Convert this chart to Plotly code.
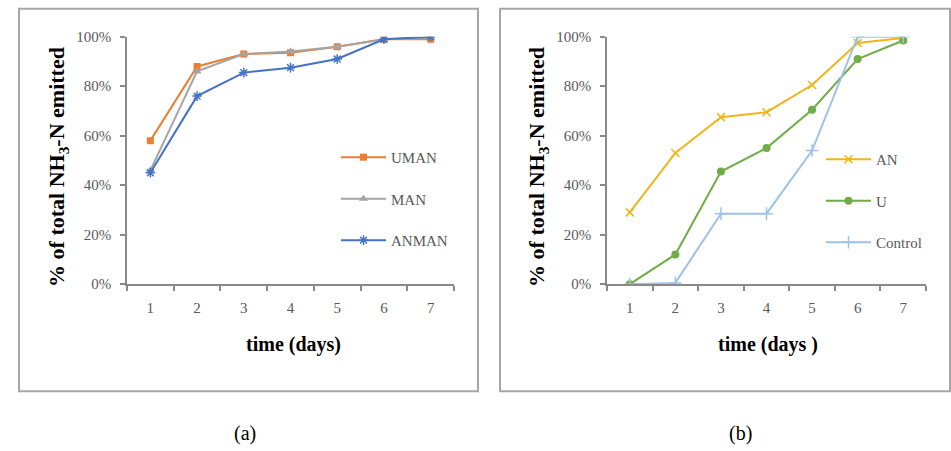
import plotly.graph_objects as go

days = ["1", "2", "3", "4", "5", "6", "7"]
y_ticks = [0, 0.2, 0.4, 0.6, 0.8, 1.0]

uman = [0.58, 0.88, 0.93, 0.935, 0.96, 0.99, 0.99]
man = [0.46, 0.86, 0.93, 0.94, 0.96, 0.99, 0.995]
anman = [0.45, 0.76, 0.855, 0.875, 0.91, 0.99, 1.0]

an = [0.29, 0.53, 0.675, 0.695, 0.805, 0.975, 0.995]
u = [0.0, 0.12, 0.455, 0.55, 0.705, 0.91, 0.985]
control = [0.0, 0.005, 0.285, 0.285, 0.54, 1.0, 1.0]

W, H = 951, 451
SERIF = "Liberation Serif"
TICKCOL = "#595959"

def px(x):
    return x / W

def py(y):
    # vertical placement, compensated for the capture's vertical offset/scale
    yp = (y - 7.3) / 0.963
    return (H - yp) / H

fig = go.Figure()

# panel (a)
fig.add_trace(go.Scatter(x=days, y=uman, name="UMAN", mode="lines+markers",
                         line=dict(color="#ED7D31", width=2),
                         marker=dict(symbol="square", size=7, color="#ED7D31"),
                         xaxis="x", yaxis="y", legend="legend", legendgroup="a1"))
fig.add_trace(go.Scatter(x=days, y=man, name="MAN", mode="lines+markers",
                         line=dict(color="#A5A5A5", width=2),
                         marker=dict(symbol="triangle-up", size=8, color="#A5A5A5"),
                         xaxis="x", yaxis="y", legend="legend", legendgroup="a2"))
fig.add_trace(go.Scatter(x=days, y=anman, name="ANMAN", mode="lines+markers",
                         line=dict(color="#4472C4", width=2),
                         marker=dict(symbol="asterisk-open", size=8, color="#4472C4",
                                     line=dict(color="#4472C4", width=1.5)),
                         xaxis="x", yaxis="y", legend="legend", legendgroup="a3"))

# panel (b)
fig.add_trace(go.Scatter(x=days, y=an, name="AN", mode="lines+markers",
                         line=dict(color="#F2B418", width=2),
                         marker=dict(symbol="x-thin-open", size=8, color="#F2B418",
                                     line=dict(color="#F2B418", width=1.5)),
                         xaxis="x2", yaxis="y2", legend="legend2", legendgroup="b1"))
fig.add_trace(go.Scatter(x=days, y=u, name="U", mode="lines+markers",
                         line=dict(color="#70AD47", width=2),
                         marker=dict(symbol="circle", size=8, color="#70AD47"),
                         xaxis="x2", yaxis="y2", legend="legend2", legendgroup="b2"))
fig.add_trace(go.Scatter(x=days, y=control, name="Control", mode="lines+markers",
                         line=dict(color="#9DC3E6", width=2),
                         marker=dict(symbol="cross-thin-open", size=9, color="#9DC3E6",
                                     line=dict(color="#9DC3E6", width=1.5)),
                         xaxis="x2", yaxis="y2", legend="legend2", legendgroup="b3"))

xaxis_common = dict(type="category", tickson="boundaries", ticks="outside", ticklen=5,
                    tickcolor="#898989", tickwidth=1.5, showline=True, linecolor="#898989",
                    linewidth=1.5, showgrid=False, zeroline=False, ticklabelstandoff=9,
                    tickfont=dict(family=SERIF, size=15, color=TICKCOL),
                    range=[-0.5, 6.5], fixedrange=True)
yaxis_common = dict(range=[0, 1], tickvals=y_ticks, tickformat=".0%", ticks="outside",
                    ticklen=5, tickcolor="#898989", tickwidth=1.5, showline=True,
                    linecolor="#898989", linewidth=1.5, showgrid=False, zeroline=False,
                    ticklabelstandoff=6,
                    tickfont=dict(family=SERIF, size=15, color=TICKCOL), fixedrange=True)

ydom = [py(283), py(36)]
fig.update_layout(
    width=W, height=H,
    margin=dict(l=0, r=0, t=0, b=0),
    paper_bgcolor="white", plot_bgcolor="white",
    xaxis=dict(domain=[px(127), px(454)], anchor="y", **xaxis_common),
    yaxis=dict(domain=ydom, anchor="x", **yaxis_common),
    xaxis2=dict(domain=[px(607), px(926)], anchor="y2", **xaxis_common),
    yaxis2=dict(domain=ydom, anchor="x2", **yaxis_common),
    legend=dict(x=px(336), y=py(140), xanchor="left", yanchor="top",
                font=dict(family=SERIF, size=15, color=TICKCOL), itemwidth=45,
                tracegroupgap=19, bgcolor="rgba(0,0,0,0)"),
    legend2=dict(x=px(821), y=py(142), xanchor="left", yanchor="top",
                 font=dict(family=SERIF, size=15, color=TICKCOL), itemwidth=45,
                 tracegroupgap=19, bgcolor="rgba(0,0,0,0)"),
    shapes=[
        dict(type="rect", xref="paper", yref="paper", x0=px(19), x1=px(478),
             y0=py(390), y1=py(8), line=dict(color="#A6A6A6", width=2)),
        dict(type="rect", xref="paper", yref="paper", x0=px(500), x1=px(950),
             y0=py(390), y1=py(8), line=dict(color="#A6A6A6", width=2)),
    ],
    annotations=[
        dict(text="<b>% of total NH<sub>3</sub>-N emitted</b>", xref="paper", yref="paper",
             x=px(58), y=py(166), textangle=-90, showarrow=False,
             font=dict(family=SERIF, size=22, color="black"), xanchor="center", yanchor="middle"),
        dict(text="<b>% of total NH<sub>3</sub>-N emitted</b>", xref="paper", yref="paper",
             x=px(538), y=py(166), textangle=-90, showarrow=False,
             font=dict(family=SERIF, size=22, color="black"), xanchor="center", yanchor="middle"),
        dict(text="<b>time (days)</b>", xref="paper", yref="paper", x=px(293), y=py(343),
             showarrow=False, font=dict(family=SERIF, size=20, color="black"),
             xanchor="center", yanchor="middle"),
        dict(text="<b>time (days )</b>", xref="paper", yref="paper", x=px(768), y=py(343),
             showarrow=False, font=dict(family=SERIF, size=20, color="black"),
             xanchor="center", yanchor="middle"),
        dict(text="(a)", xref="paper", yref="paper", x=px(245), y=py(432),
             showarrow=False, font=dict(family=SERIF, size=20, color="black"),
             xanchor="center", yanchor="middle"),
        dict(text="(b)", xref="paper", yref="paper", x=px(740), y=py(432),
             showarrow=False, font=dict(family=SERIF, size=20, color="black"),
             xanchor="center", yanchor="middle"),
    ],
)

fig.write_html("out.html", config={"displayModeBar": False},
               post_script="document.body.style.margin='0';document.body.style.overflow='hidden';")
